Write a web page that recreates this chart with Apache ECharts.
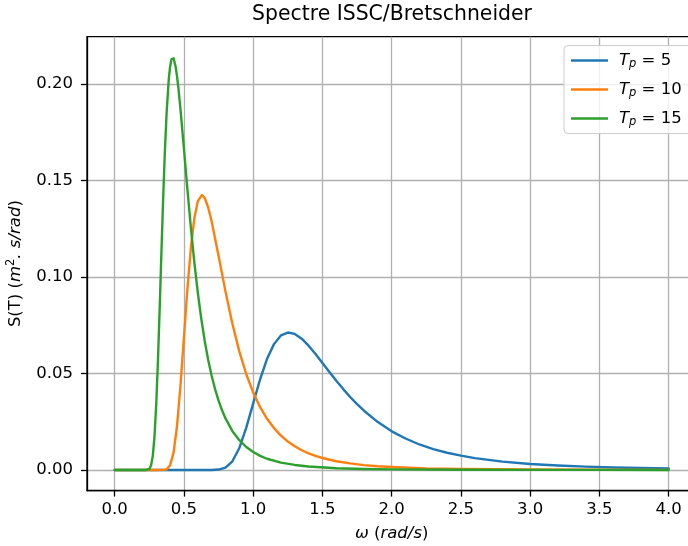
<!DOCTYPE html>
<html><head><meta charset="utf-8">
<script src="https://cdn.jsdelivr.net/npm/echarts@6/dist/echarts.min.js"></script>
<style>html,body{margin:0;padding:0;background:#fff}#c{width:688px;height:546px}</style>
</head><body><div id="c"></div>
<script>
// omega (rad/s) sample points and spectral density read for each peak period
const omega5 = [0, 0.2, 0.4, 0.6, 0.7, 0.75, 0.8, 0.85, 0.9, 0.95, 1.0, 1.05, 1.1, 1.15, 1.2, 1.25, 1.3, 1.35, 1.4, 1.45, 1.5, 1.55, 1.6, 1.65, 1.7, 1.75, 1.8, 1.9, 2.0, 2.1, 2.2, 2.3, 2.4, 2.5, 2.6, 2.8, 3.0, 3.2, 3.4, 3.6, 3.8, 4.0];
const spec5 = [0, 0, 0, 0, 0.00001, 0.0002, 0.0012, 0.0045, 0.0114, 0.0219, 0.0345, 0.0470, 0.0576, 0.0652, 0.0697, 0.0712, 0.0705, 0.0680, 0.0644, 0.0601, 0.0554, 0.0508, 0.0462, 0.0419, 0.0378, 0.0341, 0.0307, 0.0248, 0.0200, 0.0163, 0.0132, 0.0108, 0.0089, 0.0074, 0.0061, 0.0043, 0.0031, 0.0023, 0.0017, 0.0013, 0.0010, 0.0008];

const omega10 = [0, 0.1, 0.2, 0.3, 0.35, 0.375, 0.4, 0.425, 0.45, 0.475, 0.5, 0.525, 0.55, 0.575, 0.6, 0.63, 0.65, 0.675, 0.7, 0.75, 0.8, 0.85, 0.9, 0.95, 1.0, 1.05, 1.1, 1.15, 1.2, 1.25, 1.3, 1.35, 1.4, 1.45, 1.5, 1.6, 1.7, 1.8, 1.9, 2.0, 2.25, 2.5, 3.0, 3.5, 4.0];
const spec10 = [0, 0, 0, 0, 0.00002, 0.0003, 0.0024, 0.0090, 0.0228, 0.0439, 0.0690, 0.0940, 0.1151, 0.1304, 0.1393, 0.1425, 0.1409, 0.1360, 0.1287, 0.1109, 0.0924, 0.0756, 0.0613, 0.0496, 0.0401, 0.0325, 0.0265, 0.0217, 0.0178, 0.0147, 0.0123, 0.0102, 0.0086, 0.0073, 0.0062, 0.0045, 0.0034, 0.0025, 0.0019, 0.0015, 0.0008, 0.0005, 0.0002, 0.00009, 0.00005];

const omega15 = [0, 0.1, 0.2, 0.225, 0.2375, 0.25, 0.2625, 0.275, 0.2875, 0.3, 0.3125, 0.325, 0.3375, 0.35, 0.3625, 0.375, 0.39, 0.4, 0.41, 0.42, 0.425, 0.44, 0.45, 0.46, 0.475, 0.5, 0.525, 0.55, 0.575, 0.6, 0.625, 0.65, 0.675, 0.7, 0.725, 0.75, 0.775, 0.8, 0.85, 0.9, 0.95, 1.0, 1.05, 1.1, 1.2, 1.3, 1.4, 1.6, 1.8, 2.0, 2.5, 3.0, 3.5, 4.0];
const spec15 = [0, 0, 0, 0, 0.0001, 0.0005, 0.0023, 0.0073, 0.0175, 0.0342, 0.0571, 0.0843, 0.1132, 0.1410, 0.1655, 0.1853, 0.2021, 0.2090, 0.2128, 0.2137, 0.2133, 0.2089, 0.2040, 0.1978, 0.1868, 0.1663, 0.1454, 0.1255, 0.1076, 0.0919, 0.0784, 0.0668, 0.0570, 0.0488, 0.0418, 0.0359, 0.0309, 0.0267, 0.0201, 0.0154, 0.0119, 0.0093, 0.0073, 0.0058, 0.0038, 0.0026, 0.0018, 0.0009, 0.0005, 0.0003, 0.0001, 0.00004, 0.00002, 0.00001];

const xTicks = [0, 0.5, 1, 1.5, 2, 2.5, 3, 3.5, 4];
const yTicks = [0, 0.05, 0.1, 0.15, 0.2];
const periods = ['5', '10', '15'];
const titleText = 'Spectre ISSC/Bretschneider';

const FONT = 'DejaVu Sans';
const colors = ['#1f77b4', '#ff7f0e', '#2ca02c'];
function pairs(xs, ys) { return xs.map((x, i) => [x, ys[i]]); }
const allData = [pairs(omega5, spec5), pairs(omega10, spec10), pairs(omega15, spec15)];
const names = periods.map(p => 'Tp' + p);

const chart = echarts.init(document.getElementById('c'), null, {renderer: 'canvas'});
chart.setOption({
  animation: false,
  backgroundColor: '#ffffff',
  textStyle: {fontFamily: FONT},
  title: {
    text: titleText, left: 392, top: 5, textAlign: 'center', padding: 0,
    textStyle: {fontFamily: FONT, fontSize: 20.4, fontWeight: 'normal', color: '#000'}
  },
  grid: {
    left: 87, top: 36.7, width: 609.4, height: 453.9,
    show: true, borderColor: '#000', borderWidth: 1.3, backgroundColor: 'transparent',
    containLabel: false, outerBoundsMode: 'none'
  },
  legend: {
    orient: 'vertical', left: 564, top: 45.5,
    padding: [5, 10, 5, 7], itemGap: 9,
    itemWidth: 37, itemHeight: 2.6, icon: 'rect',
    backgroundColor: 'rgba(255,255,255,0.8)', borderColor: '#cccccc', borderWidth: 1, borderRadius: 4,
    data: names,
    formatter: function (name) {
      const p = name.slice(2);
      return '{t|T}{s|p}{e| = ' + p + '}';
    },
    textStyle: {
      fontFamily: FONT, color: '#000', fontSize: 16.5,
      rich: {
        t: {fontFamily: FONT, fontSize: 16.5, fontStyle: 'italic', lineHeight: 20, padding: [0, 0, 0, 6], color: '#000'},
        s: {fontFamily: FONT, fontSize: 11.5, fontStyle: 'italic', lineHeight: 20, padding: [8, 0, 0, 0], color: '#000'},
        e: {fontFamily: FONT, fontSize: 16.5, lineHeight: 20, color: '#000'}
      }
    }
  },
  xAxis: {
    type: 'value', min: -0.2, max: 4.2,
    name: '{i|ω} {n|(}{i|rad/s}{n|)}', nameLocation: 'middle', nameGap: 35,
    nameTextStyle: {
      fontFamily: FONT, fontSize: 16.5, color: '#000',
      rich: {
        i: {fontFamily: FONT, fontSize: 16.5, fontStyle: 'italic', color: '#000'},
        n: {fontFamily: FONT, fontSize: 16.5, color: '#000'}
      }
    },
    axisLine: {show: true, onZero: false, lineStyle: {color: '#000', width: 1.3}},
    axisTick: {show: true, inside: false, length: 6, lineStyle: {color: '#000', width: 1.3}, customValues: xTicks},
    axisLabel: {show: true, margin: 11, fontFamily: FONT, fontSize: 16.5, color: '#000', customValues: xTicks,
      formatter: v => v.toFixed(1)},
    splitLine: {show: true, lineStyle: {color: '#b0b0b0', width: 1.3}},
    minorTick: {show: false}
  },
  yAxis: {
    type: 'value', min: -0.0107, max: 0.2245,
    name: '{n|S(T) (}{i|m}{s|2}{i|. s/rad}{n|)}', nameLocation: 'middle', nameGap: 57, nameRotate: 90,
    nameTextStyle: {
      fontFamily: FONT, fontSize: 16.5, color: '#000',
      rich: {
        i: {fontFamily: FONT, fontSize: 16.5, fontStyle: 'italic', color: '#000', lineHeight: 20},
        n: {fontFamily: FONT, fontSize: 16.5, color: '#000', lineHeight: 20},
        s: {fontFamily: FONT, fontSize: 11.5, color: '#000', lineHeight: 20, padding: [0, 0, 8, 0]}
      }
    },
    axisLine: {show: true, onZero: false, lineStyle: {color: '#000', width: 1.3}},
    axisTick: {show: true, inside: false, length: 6, lineStyle: {color: '#000', width: 1.3}, customValues: yTicks},
    axisLabel: {show: true, margin: 14, fontFamily: FONT, fontSize: 16.5, color: '#000', customValues: yTicks,
      formatter: v => v.toFixed(2)},
    splitLine: {show: true, lineStyle: {color: '#b0b0b0', width: 1.3}}
  },
  series: allData.map((d, i) => ({
    name: names[i], type: 'line', data: d, showSymbol: false, symbol: 'none',
    smooth: false, color: colors[i],
    lineStyle: {color: colors[i], width: 2.4, cap: 'round', join: 'round'},
    itemStyle: {color: colors[i]},
    emphasis: {disabled: true}, z: 2 + i
  }))
});
</script></body></html>
